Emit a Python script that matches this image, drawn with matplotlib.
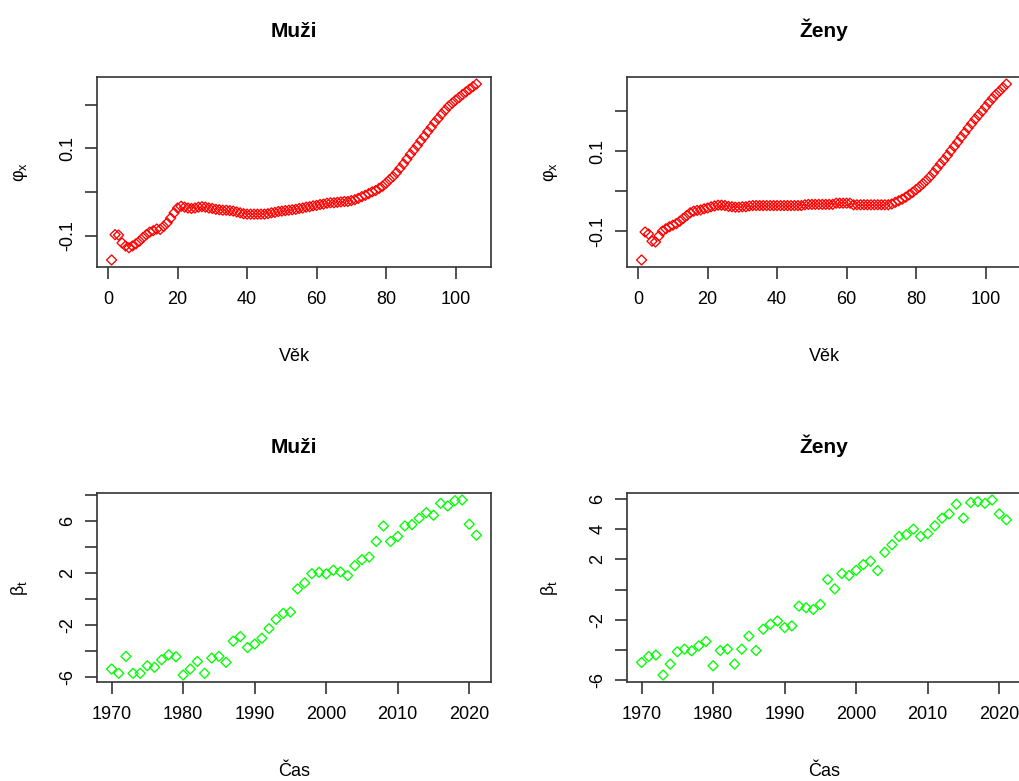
import numpy as np
import matplotlib.pyplot as plt

plt.rcParams['font.family'] = ['Liberation Sans', 'DejaVu Sans']
plt.rcParams['mathtext.fontset'] = 'custom'
plt.rcParams['mathtext.rm'] = 'Liberation Sans'
plt.rcParams['mathtext.it'] = 'Liberation Sans:italic'

# ages 1..106
ages = np.arange(1, 107)

# phi_x, men
phi_muzi = [
    -0.156, -0.098, -0.099, -0.117, -0.124, -0.128, -0.124, -0.119, -0.113, -0.105,
    -0.098, -0.092, -0.089, -0.085, -0.086, -0.079, -0.071, -0.060, -0.048, -0.037,
    -0.033, -0.035, -0.037, -0.038, -0.037, -0.035, -0.034, -0.035, -0.037, -0.038,
    -0.040, -0.041, -0.042, -0.042, -0.043, -0.044, -0.046, -0.048, -0.050, -0.051,
    -0.051, -0.051, -0.051, -0.051, -0.051, -0.050, -0.048, -0.047, -0.045, -0.044,
    -0.043, -0.042, -0.041, -0.040, -0.038, -0.037, -0.035, -0.034, -0.032, -0.031,
    -0.029, -0.028, -0.026, -0.025, -0.025, -0.024, -0.023, -0.022, -0.022, -0.020,
    -0.018, -0.015, -0.011, -0.008, -0.004, 0.000, 0.003, 0.008, 0.013, 0.020,
    0.028, 0.035, 0.044, 0.054, 0.064, 0.075, 0.086, 0.096, 0.106, 0.117,
    0.127, 0.138, 0.148, 0.159, 0.168, 0.178, 0.187, 0.196, 0.203, 0.210,
    0.216, 0.223, 0.229, 0.235, 0.241, 0.247,
]

# phi_x, women
phi_zeny = [
    -0.172, -0.102, -0.107, -0.125, -0.127, -0.112, -0.100, -0.094, -0.089, -0.085,
    -0.081, -0.075, -0.068, -0.061, -0.054, -0.050, -0.048, -0.047, -0.044, -0.042,
    -0.039, -0.037, -0.035, -0.035, -0.036, -0.038, -0.039, -0.040, -0.040, -0.039,
    -0.039, -0.037, -0.036, -0.036, -0.036, -0.036, -0.036, -0.036, -0.036, -0.036,
    -0.036, -0.036, -0.036, -0.036, -0.036, -0.036, -0.036, -0.034, -0.033, -0.033,
    -0.033, -0.033, -0.033, -0.033, -0.033, -0.033, -0.030, -0.030, -0.030, -0.030,
    -0.030, -0.034, -0.034, -0.034, -0.034, -0.034, -0.034, -0.034, -0.034, -0.034,
    -0.034, -0.034, -0.032, -0.028, -0.024, -0.020, -0.015, -0.009, -0.003, 0.004,
    0.011, 0.019, 0.027, 0.036, 0.046, 0.057, 0.068, 0.078, 0.089, 0.101,
    0.112, 0.123, 0.135, 0.146, 0.158, 0.169, 0.180, 0.190, 0.200, 0.211,
    0.222, 0.232, 0.242, 0.250, 0.259, 0.268,
]

years = np.arange(1970, 2022)

beta_muzi = [
    -5.39, -5.72, -4.42, -5.72, -5.72, -5.14, -5.26, -4.68, -4.30, -4.45,
    -5.85, -5.39, -4.81, -5.72, -4.55, -4.42, -4.88, -3.25, -2.90, -3.74,
    -3.48, -3.03, -2.29, -1.58, -1.12, -1.02, 0.76, 1.22, 1.93, 2.03,
    1.91, 2.19, 2.06, 1.78, 2.54, 3.00, 3.20, 4.40, 5.59, 4.40,
    4.78, 5.59, 5.69, 6.18, 6.61, 6.41, 7.32, 7.12, 7.53, 7.58,
    5.72, 4.88,
]

beta_zeny = [
    -4.82, -4.42, -4.33, -5.65, -4.93, -4.11, -3.94, -4.05, -3.72, -3.43,
    -5.04, -4.03, -3.94, -4.93, -3.94, -3.08, -4.03, -2.62, -2.29, -2.07,
    -2.51, -2.40, -1.09, -1.20, -1.31, -0.98, 0.67, 0.05, 1.06, 0.93,
    1.28, 1.66, 1.88, 1.26, 2.47, 2.97, 3.52, 3.63, 4.00, 3.52,
    3.70, 4.22, 4.73, 5.01, 5.65, 4.73, 5.76, 5.82, 5.71, 5.93,
    5.01, 4.62,
]

age_ticks = [0, 20, 40, 60, 80, 100]
year_ticks = [1970, 1980, 1990, 2000, 2010, 2020]
phi_ticks = [-0.1, 0.0, 0.1, 0.2]
phi_labels = ['-0.1', '', '0.1', '']
beta_m_ticks = [-6, -4, -2, 0, 2, 4, 6, 8]
beta_m_labels = ['-6', '', '-2', '', '2', '', '6', '']
beta_z_ticks = [-6, -4, -2, 0, 2, 4, 6]
beta_z_labels = ['-6', '', '-2', '', '2', '4', '6']

fig = plt.figure(figsize=(10.2, 7.81), dpi=100)
W, H = 1020, 781


def box(x0, y0, x1, y1):
    return [x0 / W, 1 - y1 / H, (x1 - x0) / W, (y1 - y0) / H]


def r_style(ax, title, xlabel, ylabel, xticks, yticks, ylabels):
    for s in ax.spines.values():
        s.set_color('#333333')
        s.set_linewidth(1.2)
    ax.margins(0.04)
    ax.set_xticks(xticks)
    ax.set_yticks(yticks)
    ax.set_yticklabels(ylabels, rotation=90, va='center')
    ax.tick_params(axis='both', direction='out', length=8.5, width=1.2,
                   color='#333333', labelsize=13)
    ax.tick_params(axis='x', pad=9)
    ax.tick_params(axis='y', pad=6.5)
    ax.set_title(title, fontsize=15, fontweight='bold', pad=29)
    ax.set_xlabel(xlabel, fontsize=13, labelpad=28.5)
    ax.set_ylabel(ylabel, fontsize=13, labelpad=21)


def draw(ax, x, y, colour):
    ax.scatter(x, y, marker='D', s=26, facecolors='none',
               edgecolors=colour, linewidths=0.95)


ax1 = fig.add_axes(box(97, 77, 491, 267))
draw(ax1, ages, phi_muzi, '#ff0000')
r_style(ax1, 'Muži', 'Věk', 'φ$_{\\mathrm{x}}$', age_ticks, phi_ticks, phi_labels)

ax2 = fig.add_axes(box(627, 77, 1021, 267))
draw(ax2, ages, phi_zeny, '#ff0000')
r_style(ax2, 'Ženy', 'Věk', 'φ$_{\\mathrm{x}}$', age_ticks, phi_ticks, phi_labels)

ax3 = fig.add_axes(box(97, 493, 491, 682))
draw(ax3, years, beta_muzi, '#00ff00')
r_style(ax3, 'Muži', 'Čas', 'β$_{\\mathrm{t}}$', year_ticks, beta_m_ticks, beta_m_labels)

ax4 = fig.add_axes(box(627, 493, 1021, 682))
draw(ax4, years, beta_zeny, '#00ff00')
r_style(ax4, 'Ženy', 'Čas', 'β$_{\\mathrm{t}}$', year_ticks, beta_z_ticks, beta_z_labels)

fig.savefig('out.png', dpi=100)
